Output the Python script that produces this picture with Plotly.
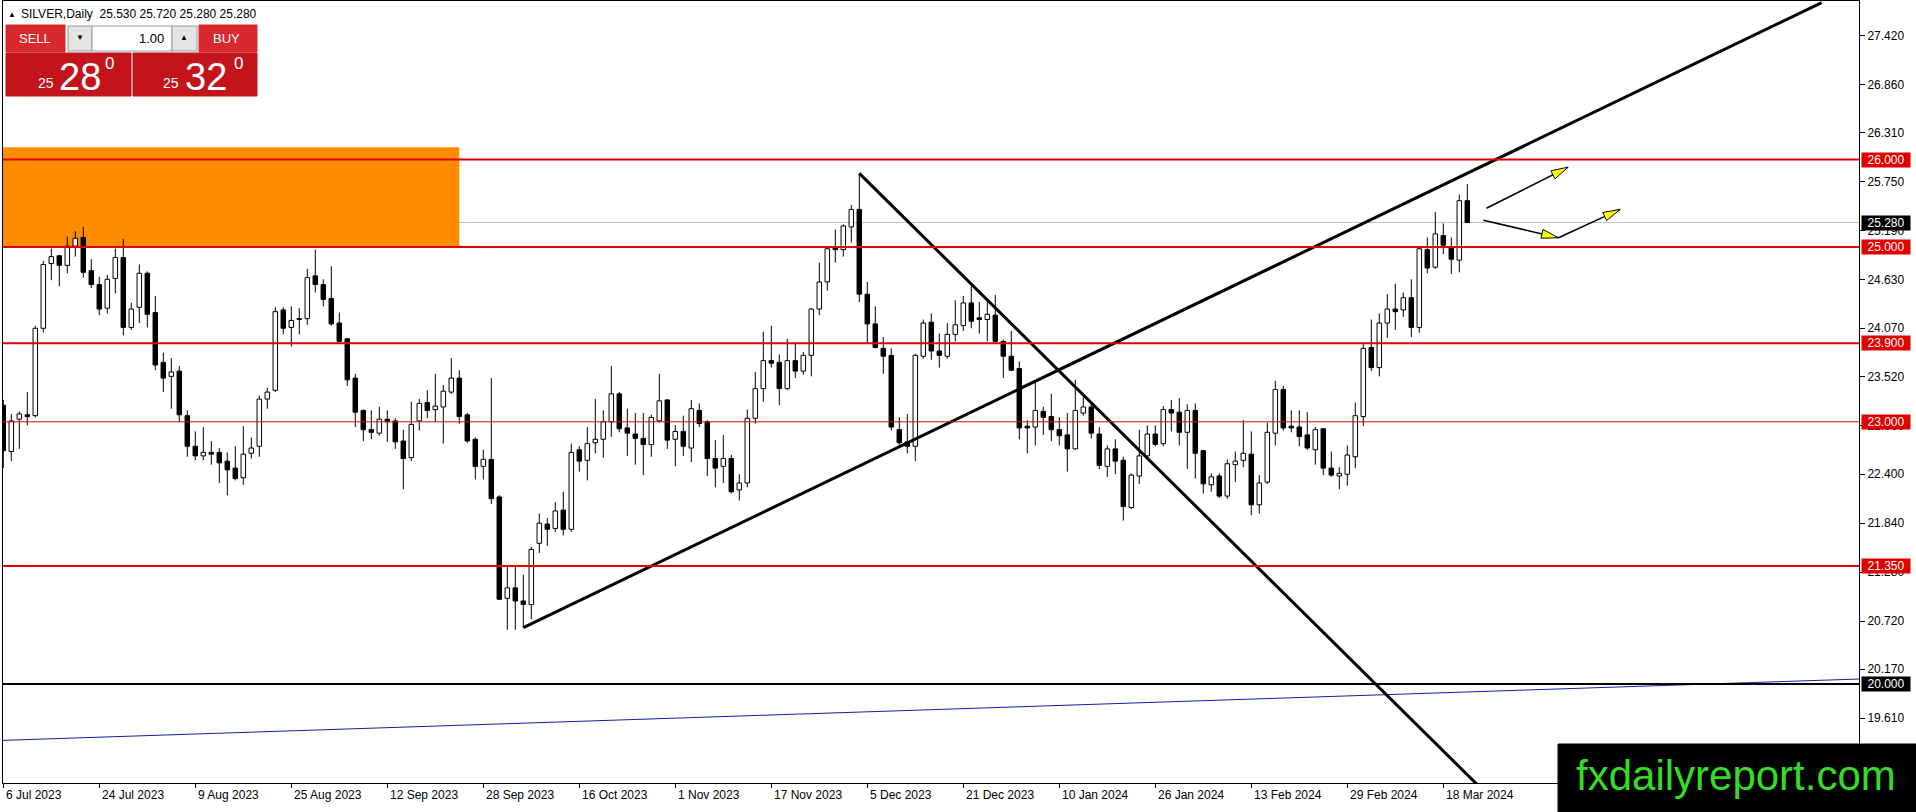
import math
import plotly.graph_objects as go

# SILVER daily candles, bar 0 = 6 Jul 2023, last bar = 21 Mar 2024
opens = [23.19, 22.66, 23.03, 23.08, 23.07, 24.07, 24.81, 24.90, 24.79, 25.01,
         25.11, 24.73, 24.57, 24.30, 24.64, 24.88, 24.08, 24.31, 24.70, 24.25,
         23.68, 23.52, 23.58, 23.07, 22.72, 22.61, 22.65, 22.65, 22.55, 22.47,
         22.36, 22.64, 22.72, 23.26, 23.36, 24.28, 24.08, 24.17, 24.18, 24.67,
         24.57, 24.41, 24.13, 23.95, 23.50, 23.13, 22.91, 22.87, 23.03, 23.01,
         22.78, 22.59, 23.01, 23.22, 23.14, 23.17, 23.34, 23.50, 23.08, 22.80,
         22.49, 22.57, 22.14, 20.98, 21.10, 20.95, 20.91, 21.61, 21.83, 21.78,
         21.99, 21.77, 22.68, 22.56, 22.76, 22.80, 23.00, 23.32, 22.93, 22.86,
         22.81, 22.74, 23.01, 23.25, 22.80, 22.89, 22.70, 23.13, 23.00, 22.58,
         22.49, 22.58, 22.22, 22.30, 23.04, 23.38, 23.70, 23.68, 23.38, 23.70,
         23.58, 23.76, 24.29, 24.60, 24.99, 24.97, 25.23, 25.43, 24.46, 24.12,
         23.84, 23.76, 22.91, 22.77, 22.72, 23.75, 24.14, 23.81, 23.75, 24.00,
         24.10, 24.36, 24.19, 24.17, 24.22, 23.92, 23.75, 23.61, 22.95, 22.94,
         23.12, 23.06, 22.91, 22.85, 22.69, 23.10, 23.17, 22.86, 22.49, 22.69,
         22.56, 22.02, 22.38, 22.61, 22.86, 22.75, 23.14, 23.11, 22.88, 23.13,
         22.67, 22.28, 22.38, 22.15, 22.51, 22.56, 22.63, 22.05, 22.31, 22.87,
         23.37, 22.95, 22.94, 22.85, 22.68, 22.92, 22.47, 22.38, 22.40, 22.60,
         23.06, 23.85, 23.62, 24.13, 24.29, 24.28, 24.42, 24.08, 24.97, 24.77,
         25.13, 24.99, 24.85, 25.53]
highs = [23.25, 23.09, 23.12, 23.34, 24.10, 24.84, 24.98, 24.91, 25.12, 25.18,
         25.23, 24.86, 24.66, 24.68, 24.98, 25.09, 24.36, 24.80, 24.72, 24.44,
         23.79, 23.73, 23.64, 23.13, 22.89, 22.94, 22.78, 22.70, 22.65, 22.72,
         22.95, 22.82, 23.30, 23.39, 24.31, 24.31, 24.32, 24.30, 24.75, 24.97,
         24.63, 24.78, 24.25, 23.96, 23.55, 23.14, 23.13, 23.17, 23.13, 23.04,
         22.91, 23.23, 23.26, 23.36, 23.55, 23.42, 23.73, 23.59, 23.10, 22.82,
         22.68, 23.50, 22.16, 21.34, 21.34, 21.25, 21.57, 21.95, 21.90, 22.08,
         22.20, 22.75, 22.72, 22.94, 23.26, 23.13, 23.64, 23.34, 23.15, 23.10,
         23.10, 23.08, 23.55, 23.26, 22.96, 23.07, 23.25, 23.21, 23.02, 22.79,
         22.85, 22.62, 22.40, 23.14, 23.57, 24.03, 24.10, 23.77, 23.95, 23.90,
         23.80, 24.30, 24.82, 25.00, 25.20, 25.26, 25.48, 25.84, 24.60, 24.32,
         23.97, 23.84, 23.05, 23.09, 23.78, 24.17, 24.24, 24.01, 24.13, 24.39,
         24.44, 24.55, 24.37, 24.37, 24.45, 23.94, 24.04, 23.69, 23.02, 23.45,
         23.17, 23.32, 23.05, 23.10, 23.48, 23.28, 23.20, 22.94, 22.73, 22.80,
         22.60, 22.41, 22.91, 22.96, 22.96, 23.18, 23.25, 23.27, 23.20, 23.21,
         22.68, 22.41, 22.41, 22.57, 22.66, 23.02, 22.89, 22.39, 22.99, 23.47,
         23.41, 23.13, 23.13, 23.11, 22.94, 22.93, 22.66, 22.48, 22.73, 23.22,
         23.90, 24.17, 24.24, 24.46, 24.58, 24.48, 24.63, 25.00, 25.11, 25.40,
         25.27, 25.11, 25.60, 25.72]
lows = [22.47, 22.55, 22.69, 22.96, 23.05, 24.02, 24.62, 24.55, 24.70, 24.89,
        24.65, 24.53, 24.22, 24.24, 24.47, 23.99, 24.05, 24.13, 24.08, 23.59,
        23.34, 23.15, 23.00, 22.60, 22.56, 22.56, 22.51, 22.30, 22.16, 22.33,
        22.28, 22.58, 22.60, 23.15, 23.34, 24.00, 23.86, 24.00, 24.11, 24.48,
        24.32, 24.10, 23.91, 23.41, 22.94, 22.78, 22.80, 22.84, 22.77, 22.69,
        22.23, 22.55, 22.90, 23.04, 23.00, 22.75, 23.32, 22.98, 22.76, 22.34,
        22.34, 22.06, 20.96, 20.62, 20.62, 20.64, 20.74, 21.50, 21.58, 21.74,
        21.70, 21.74, 22.43, 22.33, 22.64, 22.59, 22.83, 22.88, 22.61, 22.51,
        22.39, 22.60, 22.99, 22.69, 22.49, 22.61, 22.54, 22.94, 22.38, 22.25,
        22.30, 22.18, 22.10, 22.25, 22.98, 23.23, 23.62, 23.19, 23.36, 23.50,
        23.54, 23.52, 24.22, 24.50, 24.82, 24.89, 25.05, 24.37, 23.90, 23.84,
        23.55, 22.90, 22.70, 22.64, 22.55, 23.72, 23.71, 23.62, 23.72, 23.92,
        24.04, 24.07, 24.01, 23.92, 23.90, 23.50, 23.58, 22.80, 22.64, 22.73,
        22.85, 22.78, 22.73, 22.43, 22.68, 23.07, 22.81, 22.46, 22.37, 22.40,
        21.87, 22.00, 22.29, 22.60, 22.72, 22.72, 22.89, 22.73, 22.46, 22.35,
        22.18, 22.20, 22.13, 22.12, 22.31, 22.48, 21.93, 21.95, 22.29, 22.73,
        22.90, 22.88, 22.72, 22.68, 22.51, 22.39, 22.37, 22.23, 22.27, 22.47,
        22.95, 23.58, 23.52, 23.96, 24.05, 24.20, 23.97, 24.02, 24.70, 24.75,
        24.92, 24.69, 24.71, 25.28]
closes = [22.67, 23.01, 23.09, 23.06, 24.07, 24.80, 24.89, 24.79, 25.01, 25.10,
          24.71, 24.57, 24.29, 24.63, 24.88, 24.08, 24.29, 24.70, 24.23, 23.65,
          23.50, 23.57, 23.08, 22.72, 22.61, 22.65, 22.63, 22.53, 22.45, 22.35,
          22.63, 22.70, 23.26, 23.34, 24.26, 24.07, 24.16, 24.18, 24.65, 24.57,
          24.40, 24.12, 23.92, 23.48, 23.11, 22.91, 22.88, 23.03, 23.00, 22.77,
          22.58, 22.97, 23.21, 23.13, 23.18, 23.35, 23.50, 23.06, 22.78, 22.49,
          22.57, 22.12, 20.97, 21.10, 20.95, 20.91, 21.54, 21.84, 21.77, 21.98,
          21.77, 22.65, 22.55, 22.75, 22.80, 23.00, 23.32, 22.92, 22.87, 22.81,
          22.74, 23.05, 23.24, 22.79, 22.89, 22.72, 23.15, 22.98, 22.58, 22.47,
          22.58, 22.20, 22.30, 23.04, 23.38, 23.70, 23.67, 23.38, 23.70, 23.58,
          23.76, 24.29, 24.60, 24.98, 24.97, 25.24, 25.43, 24.46, 24.12, 23.85,
          23.75, 22.94, 22.76, 22.72, 23.76, 24.13, 23.81, 23.76, 24.00, 24.11,
          24.36, 24.15, 24.17, 24.23, 23.92, 23.75, 23.59, 22.93, 22.93, 23.13,
          23.05, 22.91, 22.84, 22.69, 23.13, 23.17, 22.87, 22.50, 22.69, 22.55,
          22.03, 22.39, 22.61, 22.86, 22.74, 23.14, 23.10, 22.88, 23.13, 22.64,
          22.29, 22.37, 22.15, 22.52, 22.55, 22.64, 22.05, 22.30, 22.88, 23.37,
          22.93, 22.93, 22.83, 22.70, 22.91, 22.47, 22.39, 22.41, 22.62, 23.07,
          23.84, 23.62, 24.13, 24.29, 24.26, 24.42, 24.08, 24.98, 24.76, 25.15,
          25.02, 24.86, 25.53, 25.28]

date_ticks = [0, 12, 24, 36, 48, 60, 72, 84, 96, 108, 120, 132, 144, 156, 168, 180]
date_labels = ["6 Jul 2023", "24 Jul 2023", "9 Aug 2023", "25 Aug 2023", "12 Sep 2023",
               "28 Sep 2023", "16 Oct 2023", "1 Nov 2023", "17 Nov 2023", "5 Dec 2023",
               "21 Dec 2023", "10 Jan 2024", "26 Jan 2024", "13 Feb 2024", "29 Feb 2024",
               "18 Mar 2024"]
price_ticks = [27.42, 26.86, 26.31, 25.75, 25.19, 24.63, 24.07, 23.52, 22.96,
               22.40, 21.84, 21.28, 20.72, 20.17, 19.61]

red_levels = [26.0, 25.0, 23.9, 23.0, 21.35]
red_widths = [2, 2, 2, 1, 2]
black_level = 20.0
bid_price = 25.28

zone_x = [-1, 57]
zone_y = [25.0, 26.14]

trend_up_x, trend_up_y = [65.0, 227.3], [20.644, 27.796]
trend_down_x, trend_down_y = [107.0, 186.0], [25.843, 18.69]
blue_x, blue_y = [-0.04, 231.96], [19.355, 20.057]

arrows = [((185.4, 25.443), (195.6, 25.913)),
          ((185.0, 25.307), (194.4, 25.106)),
          ((194.4, 25.106), (202.1, 25.430))]

W, H = 1916, 812
ML, MR, MT, MB = 3, 57, 1, 29
PW, PH = W - ML - MR, H - MT - MB
X_RANGE = [-0.0375, 231.9625]
Y_RANGE = [18.8673, 27.8146]
FONT = "Liberation Sans, Arial, sans-serif"


def px(x):
    return (x - ML) / PW


def py(y):
    return 1 - (y - MT) / PH


# bodies and wicks
up_x, up_base, up_h = [], [], []
dn_x, dn_base, dn_h = [], [], []
wick_x, wick_y = [], []
for i in range(len(opens)):
    o, h, l, c = opens[i], highs[i], lows[i], closes[i]
    top, bot = max(o, c), min(o, c)
    body = max(top - bot, 0.012)
    if c >= o:
        up_x.append(i); up_base.append(bot); up_h.append(body)
    else:
        dn_x.append(i); dn_base.append(bot); dn_h.append(body)
    wick_x += [i, i, None, i, i, None]
    wick_y += [h, bot + body, None, bot, l, None]

fig = go.Figure()
fig.add_trace(go.Scatter(x=wick_x, y=wick_y, mode="lines",
                         line=dict(color="black", width=1), hoverinfo="skip"))
fig.add_trace(go.Bar(x=up_x, y=up_h, base=up_base, width=0.56,
                     marker=dict(color="white", line=dict(color="black", width=1))))
fig.add_trace(go.Bar(x=dn_x, y=dn_h, base=dn_base, width=0.56,
                     marker=dict(color="black", line=dict(color="black", width=1))))

# trend lines
fig.add_trace(go.Scatter(x=blue_x, y=blue_y, mode="lines", line=dict(color="#1a1aa0", width=1)))
fig.add_trace(go.Scatter(x=trend_up_x, y=trend_up_y, mode="lines", line=dict(color="black", width=3)))
fig.add_trace(go.Scatter(x=trend_down_x, y=trend_down_y, mode="lines", line=dict(color="black", width=3)))

# arrows with yellow heads
sx = PW / (X_RANGE[1] - X_RANGE[0])
sy = PH / (Y_RANGE[1] - Y_RANGE[0])
for (x0, y0), (x1, y1) in arrows:
    fig.add_trace(go.Scatter(x=[x0, x1], y=[y0, y1], mode="lines",
                             line=dict(color="black", width=1.5)))
    dx, dy = (x1 - x0) * sx, (y1 - y0) * sy
    d = math.hypot(dx, dy)
    ux, uy = dx / d, dy / d
    bx, by = -ux * 17, -uy * 17
    nx, ny = -uy * 4.5, ux * 4.5
    hx = [x1, x1 + (bx + nx) / sx, x1 + (bx - nx) / sx, x1]
    hy = [y1, y1 + (by + ny) / sy, y1 + (by - ny) / sy, y1]
    fig.add_trace(go.Scatter(x=hx, y=hy, mode="lines", fill="toself",
                             fillcolor="#ffff00", line=dict(color="black", width=1)))

shapes = [
    dict(type="rect", xref="x", yref="y", x0=zone_x[0], x1=zone_x[1], y0=zone_y[0], y1=zone_y[1],
         fillcolor="#ff8c00", line=dict(width=0), layer="below"),
    dict(type="line", xref="paper", yref="y", x0=0, x1=1, y0=bid_price, y1=bid_price,
         line=dict(color="#c0c0c0", width=1), layer="below"),
]
for lv, lw in zip(red_levels, red_widths):
    shapes.append(dict(type="line", xref="paper", yref="y", x0=0, x1=1, y0=lv, y1=lv,
                       line=dict(color="#e00000", width=lw), layer="above"))
shapes.append(dict(type="line", xref="paper", yref="y", x0=0, x1=1, y0=black_level, y1=black_level,
                   line=dict(color="black", width=2), layer="above"))

# one-click trading panel
def box(x0, x1, y0, y1, fill, edge=None):
    return dict(type="rect", xref="paper", yref="paper", x0=px(x0), x1=px(x1), y0=py(y1), y1=py(y0),
                fillcolor=fill, line=dict(color=edge or fill, width=1), layer="above")

shapes += [
    box(6, 65, 25, 52, "#d8292e"),
    box(68, 92, 26, 51, "#e4e4e4", "#9a9a9a"),
    box(92, 172, 26, 51, "white", "#9a9a9a"),
    box(172, 197, 26, 51, "#e4e4e4", "#9a9a9a"),
    box(199, 257, 25, 52, "#d8292e"),
    box(6, 131, 53, 96, "#c3141b"),
    box(133, 257, 53, 96, "#c3141b"),
    box(1558, 1916, 744, 812, "black"),
]

ann = []
def txt(x, y, s, size, color="white", anchor="center"):
    ann.append(dict(x=px(x), y=py(y), xref="paper", yref="paper", text=s, showarrow=False,
                    xanchor=anchor, yanchor="middle", font=dict(family=FONT, size=size, color=color)))

txt(6, 14, "▲", 8, "black", "left")
txt(19, 14, "SILVER,Daily  %.3f %.3f %.3f %.3f" % (opens[-1], highs[-1], lows[-1], closes[-1]),
    12, "black", "left")
txt(35, 39, "SELL", 13)
txt(80, 38, "▼", 8, "black")
txt(166, 39, "1.00", 13, "black", "right")
txt(184, 38, "▲", 8, "black")
txt(226, 39, "BUY", 13)
txt(46, 83, "25", 14)
txt(80, 77, "28", 38)
txt(109, 63, "0", 17)
txt(171, 83, "25", 14)
txt(206, 77, "32", 38)
txt(238, 63, "0", 17)
txt(1736, 775, "fxdailyreport.com", 42, "#35dc25")

for t, lbl in zip(date_ticks, date_labels):
    ann.append(dict(x=t, xref="x", y=0, yref="paper", text=lbl, showarrow=False,
                    xanchor="left", yanchor="top", xshift=1, yshift=-3,
                    font=dict(family=FONT, size=12, color="black")))

tags = [(26.0, "#e00000"), (bid_price, "black"), (25.0, "#e00000"), (23.9, "#e00000"),
        (23.0, "#e00000"), (21.35, "#e00000"), (black_level, "black")]
for p, col in tags:
    ann.append(dict(x=1, xref="paper", y=p, yref="y", text="%.3f" % p, showarrow=False,
                    xanchor="left", yanchor="middle", xshift=2, width=46, height=12,
                    borderpad=1, bgcolor=col, align="center",
                    font=dict(family=FONT, size=12, color="white")))

fig.update_layout(
    width=W, height=H, margin=dict(l=ML, r=MR, t=MT, b=MB, pad=0),
    plot_bgcolor="white", paper_bgcolor="white", showlegend=False,
    barmode="overlay", shapes=shapes, annotations=ann,
    xaxis=dict(range=X_RANGE, showgrid=False, zeroline=False, showline=True, mirror=True,
               linecolor="black", linewidth=1, tickvals=date_ticks, ticks="outside",
               ticklen=4, tickcolor="black", showticklabels=False),
    yaxis=dict(range=Y_RANGE, side="right", showgrid=False, zeroline=False, showline=True,
               mirror=True, linecolor="black", linewidth=1, tickvals=price_ticks,
               ticktext=["%.3f" % v for v in price_ticks], ticks="outside", ticklen=5,
               tickcolor="black", tickfont=dict(family=FONT, size=12, color="black")),
)

# drop the page's default body margin so the figure fills the window, no modebar
fig.write_html("out.html", config={"displayModeBar": False},
               post_script="document.body.style.margin='0';"
                           "document.documentElement.style.overflow='hidden';")
